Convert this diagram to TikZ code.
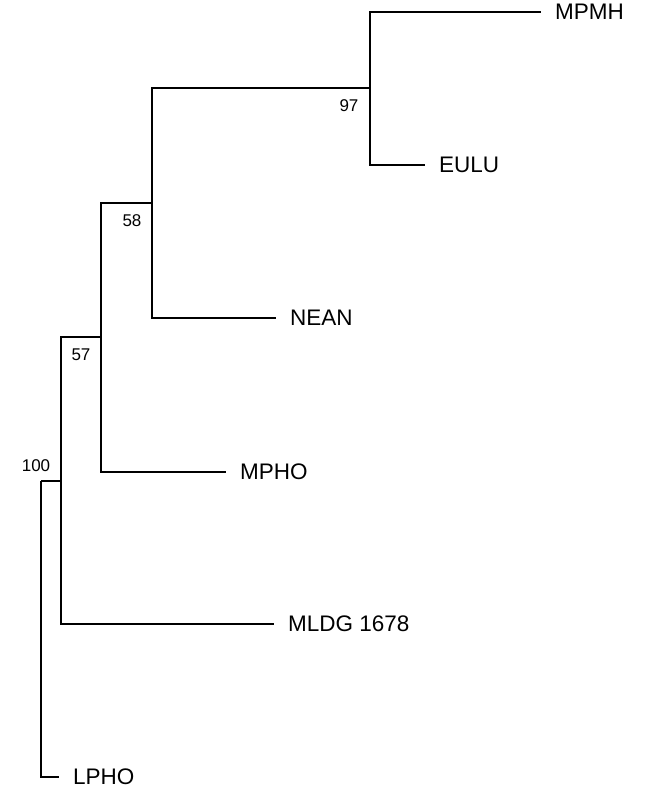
\documentclass[tikz,border=0pt]{standalone}
\usepackage{fontspec}
\setmainfont{Liberation Sans}
\usetikzlibrary{positioning}

\begin{document}
\begin{tikzpicture}[
        x=1pt, y=-1pt,
        taxon/.style={
            anchor=west,
            inner xsep=14pt,
            inner ysep=0pt,
            font=\fontsize{22.5}{26}\selectfont
        },
        support/.style={
            inner sep=0pt,
            font=\fontsize{17}{20}\selectfont
        },
        branch/.style={
            line width=1.6pt,
            line join=miter
        }
    ]

    \useasboundingbox (0,0) rectangle (666,812);

    % Internal nodes
    \coordinate (root) at (41,481);
    \coordinate (n100) at (61,481);
    \coordinate (n57) at (101,337);
    \coordinate (n58) at (152,203);
    \coordinate (n97) at (370,88);

    % Taxa (tips)
    \node[taxon] (mpmh) at (541,12) {MPMH};
    \node[taxon] (eulu) at (425,165) {EULU};
    \node[taxon] (nean) at (276,318) {NEAN};
    \node[taxon] (mpho) at (226,472) {MPHO};
    \node[taxon] (mldg) at (274,624) {MLDG 1678};
    \node[taxon] (lpho) at (59,777) {LPHO};

    % Support values
    \node[support] (s97) at (349,106) {97};
    \node[support] (s58) at (132,221) {58};
    \node[support] (s57) at (81,355) {57};
    \node[support] (s100) at (36,466) {100};

    % Branches
    \draw[branch] (n97) |- (mpmh.west);
    \draw[branch] (n97) |- (eulu.west);
    \draw[branch] (n58) |- (n97);
    \draw[branch] (n58) |- (nean.west);
    \draw[branch] (n57) |- (n58);
    \draw[branch] (n57) |- (mpho.west);
    \draw[branch] (n100) |- (n57);
    \draw[branch] (n100) |- (mldg.west);
    \draw[branch] (root) -- (n100);
    \draw[branch] (root) |- (lpho.west);

\end{tikzpicture}
\end{document}
